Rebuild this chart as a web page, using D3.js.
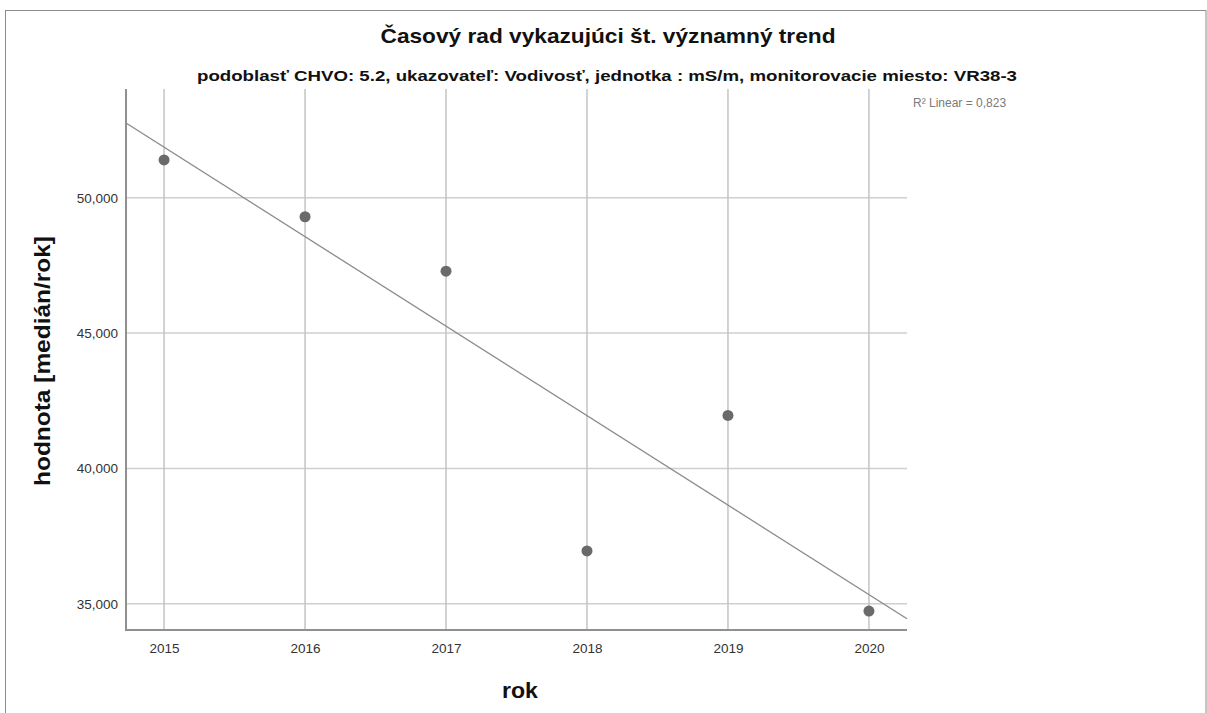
<!DOCTYPE html>
<html>
<head>
<meta charset="utf-8">
<script src="https://cdn.jsdelivr.net/npm/d3@7"></script>
<style>
  html, body { margin: 0; padding: 0; background: #fff; }
  svg { display: block; font-family: "Liberation Sans", Arial, sans-serif; }
</style>
</head>
<body>
<svg id="chart" width="1207" height="713"></svg>
<script>
const years = [2015, 2016, 2017, 2018, 2019, 2020];
const values = [51400, 49300, 47290, 36950, 41960, 34730];
const yTicks = [35000, 40000, 45000, 50000];
const titleText = "Časový rad vykazujúci št. významný trend";
const subtitleText = "podoblasť CHVO: 5.2, ukazovateľ: Vodivosť, jednotka : mS/m, monitorovacie miesto: VR38-3";
const yLabel = "hodnota [medián/rok]";
const xLabel = "rok";
const r2Label = "R² Linear = 0,823";

const svg = d3.select("#chart");
const plot = { left: 126, right: 907, top: 89, bottom: 630 };

const x = d3.scaleLinear().domain([2014.73, 2020.27]).range([plot.left, plot.right]);
const y = d3.scaleLinear().domain([34030, 54020]).range([plot.bottom, plot.top]);

// outer frame
svg.append("rect").attr("x", 5.5).attr("y", 10.5).attr("width", 1200.5).attr("height", 720)
  .attr("fill", "none").attr("stroke", "#8c8c8c").attr("stroke-width", 1);

// gridlines
const g = svg.append("g");
g.selectAll("line.hg").data(yTicks).enter().append("line")
  .attr("x1", plot.left).attr("x2", plot.right)
  .attr("y1", d => y(d)).attr("y2", d => y(d))
  .attr("stroke", "#cfcfcf").attr("stroke-width", 1.5);
g.selectAll("line.vg").data(years).enter().append("line")
  .attr("x1", d => x(d)).attr("x2", d => x(d))
  .attr("y1", plot.top).attr("y2", plot.bottom)
  .attr("stroke", "#c4c4c4").attr("stroke-width", 1.5);

// axes via d3 axis generators (no tick marks, labels only)
const yAxis = d3.axisLeft(y).tickValues(yTicks).tickSize(0).tickPadding(8)
  .tickFormat(d3.format(",d"));
const yg = svg.append("g").attr("transform", `translate(${plot.left},0)`).call(yAxis);
yg.select(".domain").remove();
yg.selectAll("text").attr("font-size", 13.5).attr("fill", "#333").attr("font-family", "Liberation Sans, Arial, sans-serif");

const xAxis = d3.axisBottom(x).tickValues(years).tickSize(0).tickPadding(13).tickFormat(d3.format("d"));
const xg = svg.append("g").attr("transform", `translate(0,${plot.bottom})`).call(xAxis);
xg.select(".domain").remove();
xg.selectAll("text").attr("font-size", 13.5).attr("fill", "#333").attr("font-family", "Liberation Sans, Arial, sans-serif");

// axis lines
svg.append("line").attr("x1", plot.left).attr("x2", plot.left).attr("y1", plot.top).attr("y2", plot.bottom + 1)
  .attr("stroke", "#909090").attr("stroke-width", 2);
svg.append("line").attr("x1", plot.left).attr("x2", plot.right).attr("y1", plot.bottom).attr("y2", plot.bottom)
  .attr("stroke", "#909090").attr("stroke-width", 2);

// linear regression fit line
const mx = d3.mean(years), my = d3.mean(values);
let sxy = 0, sxx = 0;
years.forEach((yr, i) => { sxy += (yr - mx) * (values[i] - my); sxx += (yr - mx) ** 2; });
const slope = sxy / sxx, intercept = my - slope * mx;
const [d0, d1] = x.domain();
svg.append("line")
  .attr("x1", x(d0)).attr("y1", y(intercept + slope * d0))
  .attr("x2", x(d1)).attr("y2", y(intercept + slope * d1))
  .attr("stroke", "#8a8a8a").attr("stroke-width", 1.3);

// points
svg.selectAll("circle.pt").data(years).enter().append("circle")
  .attr("cx", d => x(d)).attr("cy", (d, i) => y(values[i])).attr("r", 5.5)
  .attr("fill", "#6a6a6a");

// R² label
svg.append("text").attr("x", 913).attr("y", 107).attr("font-size", 12).attr("fill", "#7a7a7a")
  .text(r2Label);

// titles
svg.append("text").attr("x", 608).attr("y", 43).attr("text-anchor", "middle")
  .attr("font-size", 21).attr("font-weight", "bold").attr("fill", "#111")
  .attr("textLength", 455).attr("lengthAdjust", "spacingAndGlyphs")
  .text(titleText);
svg.append("text").attr("x", 607).attr("y", 80.5).attr("text-anchor", "middle")
  .attr("font-size", 15).attr("font-weight", "bold").attr("fill", "#111")
  .attr("textLength", 820).attr("lengthAdjust", "spacingAndGlyphs")
  .text(subtitleText);

// axis titles
svg.append("text").attr("transform", "translate(50,361) rotate(-90)").attr("text-anchor", "middle")
  .attr("font-size", 22).attr("font-weight", "bold").attr("fill", "#111")
  .attr("textLength", 250).attr("lengthAdjust", "spacingAndGlyphs")
  .text(yLabel);
svg.append("text").attr("x", 520).attr("y", 698).attr("text-anchor", "middle")
  .attr("font-size", 22).attr("font-weight", "bold").attr("fill", "#111")
  .attr("textLength", 36).attr("lengthAdjust", "spacingAndGlyphs")
  .text(xLabel);
</script>
</body>
</html>
